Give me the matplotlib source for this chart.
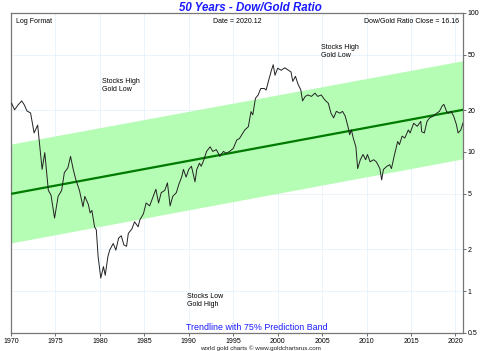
import matplotlib
matplotlib.use("Agg")
import matplotlib.pyplot as plt
from matplotlib.ticker import FixedLocator, FixedFormatter, NullLocator

plt.rcParams['font.family'] = ['Liberation Sans', 'DejaVu Sans']

# ---- data ----
years = [1970.0, 1970.1, 1970.4, 1970.8, 1971.2, 1971.5, 1971.8, 1972.2, 1972.6, 1973.0,
         1973.2, 1973.5, 1973.8, 1974.2, 1974.5, 1974.9, 1975.3, 1975.7, 1976.0, 1976.4,
         1976.7, 1977.0, 1977.3, 1977.7, 1978.1, 1978.3, 1978.7, 1978.9, 1979.1, 1979.4,
         1979.6, 1979.8, 1980.1, 1980.4, 1980.6, 1980.9, 1981.1, 1981.5, 1981.8, 1982.1,
         1982.4, 1982.7, 1983.0, 1983.2, 1983.6, 1983.9, 1984.3, 1984.5, 1984.9, 1985.2,
         1985.6, 1986.0, 1986.3, 1986.6, 1986.9, 1987.3, 1987.6, 1987.9, 1988.2, 1988.6,
         1988.9, 1989.2, 1989.4, 1989.7, 1990.0, 1990.3, 1990.7, 1990.9, 1991.2, 1991.4,
         1991.7, 1992.0, 1992.4, 1992.7, 1993.1, 1993.5, 1993.9, 1994.2, 1994.6, 1995.0,
         1995.4, 1995.7, 1996.3, 1996.7, 1997.0, 1997.2, 1997.5, 1997.8, 1998.1, 1998.5,
         1998.7, 1999.0, 1999.3, 1999.5, 1999.7, 2000.0, 2000.4, 2000.8, 2001.2, 2001.5,
         2001.7, 2002.0, 2002.3, 2002.6, 2002.8, 2003.1, 2003.4, 2003.8, 2004.2, 2004.5,
         2004.9, 2005.3, 2005.7, 2006.0, 2006.3, 2006.6, 2007.0, 2007.3, 2007.6, 2007.9,
         2008.1, 2008.3, 2008.5, 2008.8, 2009.0, 2009.3, 2009.6, 2009.9, 2010.1, 2010.4,
         2010.8, 2011.1, 2011.5, 2011.7, 2011.9, 2012.3, 2012.6, 2012.8, 2013.1, 2013.5,
         2013.7, 2014.0, 2014.3, 2014.7, 2014.9, 2015.3, 2015.7, 2016.1, 2016.2, 2016.5,
         2016.8, 2017.1, 2017.5, 2017.9, 2018.2, 2018.5, 2018.7, 2019.0, 2019.2, 2019.5,
         2019.8, 2020.1, 2020.3, 2020.6, 2020.85]
ratio = [22.5, 22.2, 20.1, 21.8, 23.3, 21.8, 19.7, 19.1, 13.7, 15.6,
         11.6, 7.5, 9.9, 5.3, 4.9, 3.35, 4.8, 5.3, 7.1, 7.7,
         9.3, 7.5, 6.3, 5.3, 4.04, 4.8, 4.2, 3.65, 3.8, 2.9,
         2.75, 1.77, 1.24, 1.5, 1.3, 1.77, 1.97, 2.2, 1.97, 2.4,
         2.5, 2.15, 2.1, 2.6, 2.8, 3.15, 2.9, 3.25, 3.6, 4.3,
         4.1, 4.8, 5.4, 4.3, 5.1, 5.3, 6.0, 4.1, 4.8, 5.1,
         5.9, 6.6, 7.5, 6.6, 7.5, 7.9, 6.1, 7.5, 8.3, 7.9,
         8.8, 10.1, 10.9, 10.1, 10.4, 9.3, 10.1, 9.8, 10.1, 10.6,
         12.2, 12.5, 14.4, 15.2, 19.5, 18.5, 24.3, 25.7, 28.6, 28.6,
         27.9, 33.0, 38.7, 42.4, 35.6, 40.0, 38.7, 40.3, 38.7, 37.6,
         32.2, 35.0, 30.6, 28.0, 23.3, 25.1, 25.7, 25.1, 26.5, 25.1,
         25.7, 23.7, 22.4, 19.0, 17.6, 19.6, 19.0, 19.6, 18.1, 15.3,
         13.3, 14.4, 12.6, 10.9, 7.6, 8.8, 9.6, 8.8, 9.6, 8.5,
         8.8, 8.5, 7.6, 6.3, 7.5, 7.9, 8.1, 7.6, 9.3, 11.9,
         11.3, 13.0, 12.6, 14.4, 13.7, 16.1, 15.3, 16.6, 14.0, 13.7,
         16.6, 17.6, 18.1, 19.0, 19.6, 21.4, 22.0, 19.6, 19.0, 19.6,
         18.1, 15.8, 13.7, 14.4, 16.16]

trend_years = [1970.0, 2020.85]
trend_values = [5.0, 20.1]
band_upper = [11.4, 45.3]
band_lower = [2.22, 8.93]

y_ticks = [0.5, 1, 2, 5, 10, 20, 50, 100]
y_tick_labels = ['0.5', '1', '2', '5', '10', '20', '50', '100']
x_ticks = [1970, 1975, 1980, 1985, 1990, 1995, 2000, 2005, 2010, 2015, 2020]
x_tick_labels = [str(v) for v in x_ticks]

# ---- figure ----
fig = plt.figure(figsize=(5.0, 3.51), dpi=100)
ax = fig.add_axes([0.022, 0.0513, 0.904, 0.912])

ax.set_yscale('log')
ax.set_ylim(0.5, 100)
ax.set_xlim(1970, 2020.85)

ax.fill_between(trend_years, band_lower, band_upper, color='#b5fcb5', lw=0, zorder=1)
ax.plot(trend_years, trend_values, color='#007a00', lw=1.6, zorder=3)
ax.plot(years, ratio, color='#222222', lw=0.7, zorder=4)

ax.yaxis.set_major_locator(FixedLocator(y_ticks))
ax.yaxis.set_major_formatter(FixedFormatter(y_tick_labels))
ax.yaxis.set_minor_locator(NullLocator())
ax.yaxis.tick_right()
ax.xaxis.set_major_locator(FixedLocator(x_ticks))
ax.xaxis.set_major_formatter(FixedFormatter(x_tick_labels))

ax.tick_params(axis='both', labelsize=5, length=2.5, width=0.6, color='#555555', pad=1)
ax.grid(True, color='#e6f2fa', lw=0.6, zorder=0)
ax.set_axisbelow(True)
for s in ax.spines.values():
    s.set_color('#777777')
    s.set_linewidth(0.9)

# texts
fig.text(0.5, 0.978, '50 Years - Dow/Gold Ratio', ha='center', va='center',
         fontsize=8.3, fontweight='bold', fontstyle='italic', color='#1a1aff')
ax.text(0.01, 0.985, 'Log Format', transform=ax.transAxes, ha='left', va='top', fontsize=5)
ax.text(0.5, 0.985, 'Date = 2020.12', transform=ax.transAxes, ha='center', va='top', fontsize=5)
ax.text(0.992, 0.985, 'Dow/Gold Ratio Close = 16.16', transform=ax.transAxes,
        ha='right', va='top', fontsize=5)
ax.text(1980.2, 30, 'Stocks High\nGold Low', ha='left', va='center', fontsize=5, linespacing=1.2)
ax.text(2004.9, 53, 'Stocks High\nGold Low', ha='left', va='center', fontsize=5, linespacing=1.2)
ax.text(1989.8, 0.85, 'Stocks Low\nGold High', ha='left', va='center', fontsize=5, linespacing=1.2)
ax.text(1997.6, 0.505, 'Trendline with 75% Prediction Band', ha='center', va='bottom',
        fontsize=6.4, color='#1a1aff')
fig.text(0.52, 0.0, 'world gold charts \u00a9 www.goldchartsrus.com', ha='center', va='bottom',
         fontsize=4.5, color='#222222')

fig.savefig('out.png', dpi=100)
